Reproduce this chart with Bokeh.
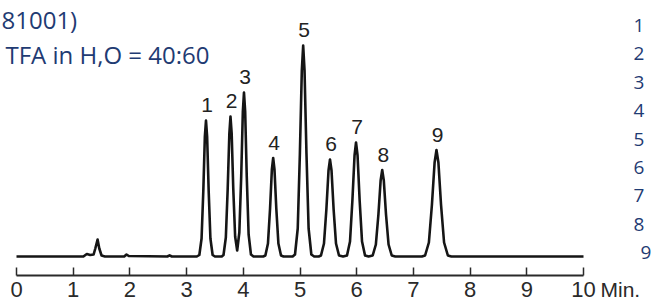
from bokeh.plotting import figure
from bokeh.models import LinearAxis, FixedTicker, Range1d, Label
from bokeh.core.properties import value
from bokeh.embed import file_html
from bokeh.resources import INLINE

# ---- data (time in min, signal in arbitrary units) ----
trace_time = [
    0.00, 1.18, 1.24, 1.30, 1.36, 1.39, 1.43, 1.46, 1.50, 1.56,
    1.90, 1.94, 1.98, 2.66, 2.70, 2.74, 3.18,
    3.225, 3.264, 3.295, 3.322, 3.342, 3.362, 3.389, 3.420, 3.459, 3.50,
    3.62, 3.651, 3.692, 3.725, 3.754, 3.774, 3.795, 3.823, 3.856, 3.892,
    3.930, 3.963, 3.992, 4.012, 4.033, 4.061, 4.094, 4.135, 4.18,
    4.35, 4.389, 4.435, 4.472, 4.504, 4.527, 4.550, 4.582, 4.619, 4.665, 4.71,
    4.87, 4.912, 4.960, 4.998, 5.032, 5.056, 5.080, 5.114, 5.152, 5.200, 5.25,
    5.33, 5.370, 5.423, 5.465, 5.503, 5.529, 5.556, 5.593, 5.635, 5.688, 5.76,
    5.829, 5.882, 5.924, 5.962, 5.988, 6.015, 6.052, 6.094, 6.147, 6.21,
    6.282, 6.338, 6.383, 6.422, 6.450, 6.478, 6.517, 6.562, 6.618, 6.68,
    7.15, 7.206, 7.273, 7.327, 7.374, 7.407, 7.441, 7.487, 7.541, 7.608, 7.67,
    10.0,
]
trace_signal = [
    0, 0, 2.5, 1.5, 2, 8, 17, 8, 1, 0,
    0, 2, 0.5, 0, 1.2, 0, 0,
    1.5, 18, 66, 120, 136, 120, 66, 18, 1.5, 0,
    0, 1.5, 19, 68, 123, 140, 123, 68, 20, 6,
    24, 80, 145, 164, 145, 80, 22, 2, 0,
    0, 1, 13, 48, 87, 98.5, 87, 48, 13, 1, 0,
    0, 2, 28, 103, 186, 211, 186, 103, 28, 2, 0,
    0, 1, 13, 47, 86, 97, 86, 47, 13, 1, 0,
    1, 15, 56, 101, 114, 101, 56, 15, 1, 0,
    1, 12, 42, 76, 86.5, 76, 42, 12, 1, 0,
    0, 1, 14, 52, 94, 106.5, 94, 52, 14, 1, 0,
    0,
]

peak_ids = ["1", "2", "3", "4", "5", "6", "7", "8", "9"]
peak_times = [3.342, 3.774, 4.012, 4.527, 5.056, 5.529, 5.988, 6.450, 7.407]
peak_heights = [136, 140, 164, 98.5, 211, 97, 114, 86.5, 106.5]

tick_values = [0, 1, 2, 3, 4, 5, 6, 7, 8, 9, 10]
tick_labels = ["0", "1", "2", "3", "4", "5", "6", "7", "8", "9", "10"]
axis_unit = "Min."

header_lines = ["81001)", "TFA in H,O = 40:60"]
side_numbers = ["1", "2", "3", "4", "5", "6", "7", "8", "9"]

# ---- figure ----
PX_PER_MIN = 56.7
p = figure(
    width=656, height=302,
    x_range=Range1d(-16 / PX_PER_MIN, 640 / PX_PER_MIN),
    y_range=Range1d(-46, 256),
    x_axis_type=None, y_axis_type=None,
    output_backend="svg", toolbar_location=None,
    min_border=0, outline_line_color=None,
    background_fill_color="white", border_fill_color="white",
)

ax = LinearAxis(
    fixed_location=-19, bounds=(0, 10),
    ticker=FixedTicker(ticks=tick_values),
    major_label_overrides={float(v): s for v, s in zip(tick_values, tick_labels)},
    major_tick_in=8, major_tick_out=0, minor_tick_in=0, minor_tick_out=0,
    axis_line_width=2, axis_line_color="#2a2a2a",
    major_tick_line_width=1.5, major_tick_line_color="#2a2a2a",
    major_label_text_font="Liberation Sans", major_label_text_font_size="22px",
    major_label_text_color="#2a2a2a", major_label_standoff=6,
)
p.add_layout(ax, "below")

p.line(trace_time, trace_signal, line_width=2.6, line_color="#151515", line_join="round")

p.text(x=peak_times, y=peak_heights, text=peak_ids,
       text_font=value("Liberation Sans"), text_font_size="21px",
       text_color="#222222", text_align="center", text_baseline="middle",
       x_offset=1, y_offset=-15.5)

BLUE = "#1f3b73"
def px_to_x(px):
    return (px - 16) / PX_PER_MIN

def py_to_y(py):
    return 256 - py

p.add_layout(Label(x=px_to_x(1), y=py_to_y(19), text=header_lines[0],
                   text_font="Open Sans", text_font_size="24px", text_color=BLUE,
                   text_align="left", text_baseline="alphabetic"))
p.add_layout(Label(x=px_to_x(5), y=py_to_y(54), text=header_lines[1],
                   text_font="Open Sans", text_font_size="24px", text_color=BLUE,
                   text_align="left", text_baseline="alphabetic"))

for i, s in enumerate(side_numbers):
    left = 640 if i == 8 else 633
    p.add_layout(Label(x=px_to_x(left), y=py_to_y(25 + 28.4 * i), text=s,
                       text_font="Open Sans", text_font_size="19px", text_color=BLUE,
                       text_align="left", text_baseline="alphabetic"))

p.add_layout(Label(x=px_to_x(600), y=py_to_y(289), text=axis_unit,
                   text_font="Liberation Sans", text_font_size="21px", text_color="#2a2a2a",
                   text_align="left", text_baseline="middle"))

open("out.html", "w").write(file_html(p, INLINE))
